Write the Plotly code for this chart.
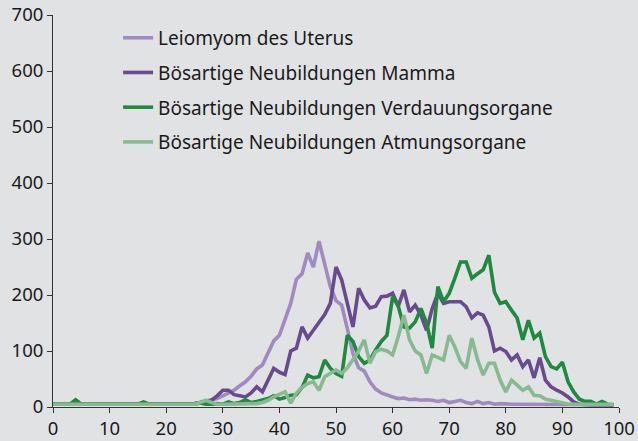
import plotly.graph_objects as go

ages = list(range(0, 100))

leiomyom = [5]*25 + [6, 8, 10, 12, 15, 20, 25, 30, 38, 45, 55, 68, 75, 95, 118, 128, 155, 185, 228, 238,
                     275, 250, 296, 255, 215, 190, 182, 140, 95, 70, 64, 45, 32, 25, 21, 18, 15, 16, 13, 14,
                     12, 13, 12, 10, 12, 8, 10, 12, 8, 6, 10, 6, 8, 5, 6] + [5]*10 + [4]*10

mamma = [5]*25 + [6, 8, 10, 12, 20, 30, 30, 22, 20, 18, 25, 36, 27, 48, 69, 62, 58, 100, 105, 143,
                  123, 137, 150, 165, 185, 250, 227, 185, 143, 212, 191, 177, 180, 197, 198, 203, 180, 209, 170, 182,
                  164, 137, 176, 203, 185, 188, 188, 188, 179, 159, 168, 164, 143, 100, 105, 99, 84, 93, 72, 84,
                  52, 88, 48, 36, 30, 25, 18, 9, 5] + [4]*6

verdauung = [5, 5, 5, 5, 13, 5, 5, 5, 5, 5, 5, 5, 5, 5, 5, 5, 9, 5, 5, 5, 5, 5, 5, 5, 5,
             5, 7, 5, 5, 6, 5, 9, 6, 8, 13, 8, 10, 12, 15, 20, 14, 17, 21, 22, 35,
             57, 52, 54, 84, 69, 60, 55, 128, 117, 90, 78, 84, 102, 117, 128, 197, 180, 143, 141, 152,
             176, 150, 105, 215, 188, 203, 230, 259, 259, 230, 238, 245, 271, 205, 185, 188, 173, 159, 120, 155,
             123, 132, 90, 72, 68, 80, 45, 27, 14, 10, 10, 5, 10, 5, 4]

atmung = [5]*26 + [8, 12, 8, 5, 5, 5, 5, 5, 5, 5, 6, 8, 12, 18, 22, 27, 7, 25, 35,
                   42, 45, 30, 54, 60, 66, 60, 70, 85, 100, 120, 78, 99, 103, 100, 93, 126, 164, 120, 100,
                   93, 60, 93, 88, 84, 128, 107, 81, 69, 123, 85, 57, 78, 78, 48, 27, 48, 39, 30, 36,
                   21, 20, 14, 12, 10, 8] + [5]*9

names = ["Leiomyom des Uterus", "Bösartige Neubildungen Mamma",
         "Bösartige Neubildungen Verdauungsorgane", "Bösartige Neubildungen Atmungsorgane"]
series = [leiomyom, mamma, verdauung, atmung]
colors = ["#a08bc0", "#6a4a8e", "#1f8a3f", "#87bb8f"]

x_ticks = list(range(0, 101, 10))
y_ticks = list(range(0, 701, 100))

fig = go.Figure()
for name, vals, col in zip(names, series, colors):
    fig.add_trace(go.Scatter(x=ages, y=vals, mode="lines", name=name, legendgroup=name,
                             line=dict(color=col, width=3.6)))

bg = "#e1e2e4"
fig.update_layout(
    width=638, height=441,
    paper_bgcolor=bg, plot_bgcolor=bg,
    margin=dict(l=53, r=19, t=15, b=34, autoexpand=False),
    font=dict(family="Noto Sans", size=18.5, color="#1a1a1a"),
    showlegend=True,
    legend=dict(x=0.115, y=0.99, xanchor="left", yanchor="top", bgcolor="rgba(0,0,0,0)",
                font=dict(size=19), tracegroupgap=7, itemwidth=30),
)
fig.update_xaxes(range=[0, 100], tickvals=x_ticks, ticks="outside", ticklen=5, tickcolor="#333",
                 showline=True, linecolor="#333", linewidth=1, showgrid=False, zeroline=False,
                 automargin=False)
fig.update_yaxes(range=[0, 700], tickvals=y_ticks, ticks="outside", ticklen=5, tickcolor="#333",
                 showline=True, linecolor="#333", linewidth=1, showgrid=False, zeroline=False,
                 automargin=False)

fig.write_html("out.html", config={"displayModeBar": False},
               post_script="document.body.style.margin='0';document.body.style.overflow='hidden';document.body.style.background='#e1e2e4';")
